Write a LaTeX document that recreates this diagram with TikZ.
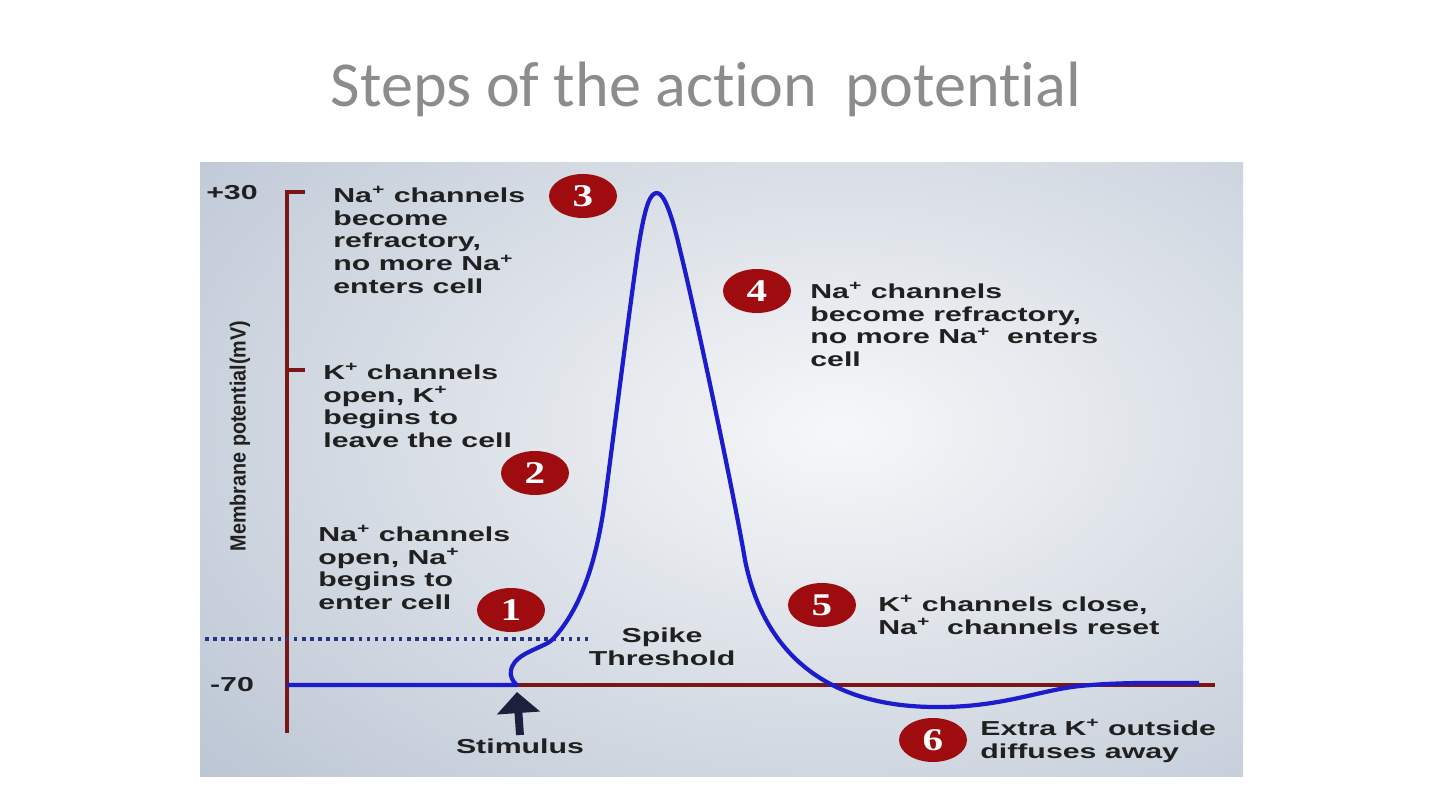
\documentclass[tikz,border=0pt]{standalone}
\usepackage{fontspec}
\setmainfont{Liberation Sans}
\newfontfamily\lblfont[FakeStretch=1.5]{Liberation Sans}
\newfontfamily\numfont[FakeStretch=1.3]{Liberation Serif}
\newfontfamily\titlefont[Ligatures=NoCommon]{Carlito}
\newfontfamily\axisfont[FakeStretch=0.9]{Liberation Sans}
\usepackage{tikz}
\usetikzlibrary{shapes.geometric,arrows.meta,positioning}
\definecolor{axisred}{RGB}{122,22,22}
\definecolor{badgered}{RGB}{158,12,16}
\definecolor{curveblue}{RGB}{28,28,205}
\definecolor{dotblue}{RGB}{40,52,130}
\definecolor{stimnavy}{RGB}{28,32,60}
\definecolor{txtgray}{RGB}{32,32,32}
\definecolor{titlegray}{RGB}{140,140,140}
\definecolor{panelout}{RGB}{184,195,210}
\definecolor{panelin}{RGB}{246,247,248}

\begin{document}
\begin{tikzpicture}[
  x=0.02cm, y=-0.02cm,
  note/.style={font=\lblfont\bfseries\fontsize{11.5}{13}\selectfont,text=txtgray,align=left,inner sep=0pt,anchor=north west},
  badge/.style={ellipse,fill=badgered,minimum width=1.36cm,minimum height=0.88cm,inner sep=0pt,
    font=\numfont\bfseries\fontsize{18}{18}\selectfont,text=white},
  axislbl/.style={font=\lblfont\bfseries\fontsize{11.5}{13}\selectfont,text=txtgray,inner sep=0pt},
]
\useasboundingbox (0,0) rectangle (1440,810);
\fill[white] (0,0) rectangle (1440,810);

% Title
\node[font=\titlefont\fontsize{36.5}{40}\selectfont,text=titlegray,anchor=base] (title) at (706,107) {Steps of the action\ \ potential};

% Panel background
\begin{scope}
  \clip (200,163) rectangle (1243,776);
  \shade[inner color=panelin,outer color=panelout] (840,430) ellipse (900 and 560);
\end{scope}

% Axes
\draw[axisred,line width=2.8pt] (287,733) -- (287,192) -- (305,192);
\draw[axisred,line width=2.2pt] (287,370) -- (305,370);
\draw[axisred,line width=2.2pt] (287,685) -- (1215,685);

% Threshold
\draw[dotblue,line width=2pt,dash pattern=on 2pt off 2.6pt] (205,639) -- (588,639);

% Membrane potential trace
\draw[curveblue,line width=2.4pt,line join=round]
  (287,685) -- (517,685)
  .. controls (508,678) and (507,664) .. (525,654)
  .. controls (538,647) and (546,645) .. (552,640)
  .. controls (585,605) and (598,550) .. (605,500)
  .. controls (613,440) and (628,320) .. (638,250)
  .. controls (645,205) and (650,193) .. (657,193)
  .. controls (664,193) and (672,215) .. (680,250)
  .. controls (695,310) and (735,500) .. (745,560)
  .. controls (758,625) and (800,706) .. (934,707)
  .. controls (1000,708) and (1040,690) .. (1080,686)
  .. controls (1120,682) and (1160,683) .. (1199,683);

% Axis labels
\node[axislbl] (top) at (232,193) {+30};
\node[axislbl] (rest) at (232,685) {-70};
\node[font=\axisfont\bfseries\fontsize{12.5}{13}\selectfont,text=txtgray,rotate=90,inner sep=0pt] (ylabel) at (240,436) {Membrane potential(mV)};

% Step badges
\node[badge] (s1) at (511,610) {1};
\node[badge] (s2) at (535,473) {2};
\node[badge] (s3) at (583,196) {3};
\node[badge] (s4) at (757,291) {4};
\node[badge] (s5) at (822,605) {5};
\node[badge] (s6) at (933,740) {6};

% Step texts
\node[note] (t3) at (333,186) {Na\textsuperscript{+} channels\\become\\refractory,\\no more Na\textsuperscript{+}\\enters cell};
\node[note] (tk) at (323,363) {K\textsuperscript{+} channels\\open, K\textsuperscript{+}\\begins to\\leave the cell};
\node[note] (t1) at (318,525) {Na\textsuperscript{+} channels\\open, Na\textsuperscript{+}\\begins to\\enter cell};
\node[note] (t4) at (810,282) {Na\textsuperscript{+} channels\\become refractory,\\no more Na\textsuperscript{+}\ \ enters\\cell};
\node[note] (t5) at (878,595) {K\textsuperscript{+} channels close,\\Na\textsuperscript{+}\ \ channels reset};
\node[note] (t6) at (980,719) {Extra K\textsuperscript{+} outside\\diffuses away};
\node[note,align=center,anchor=north] (thr) at (662,628) {Spike\\Threshold};

% Stimulus
\node[note,anchor=north] (stim) at (520,739) {Stimulus};
\coordinate (onset) at (517,692);
\draw[stimnavy,line width=4.5pt,-{Triangle[width=24pt,length=12pt]}] (stim.north) ++(0,-4) coordinate (stimtop) (stimtop) -- (onset);

\end{tikzpicture}
\end{document}
